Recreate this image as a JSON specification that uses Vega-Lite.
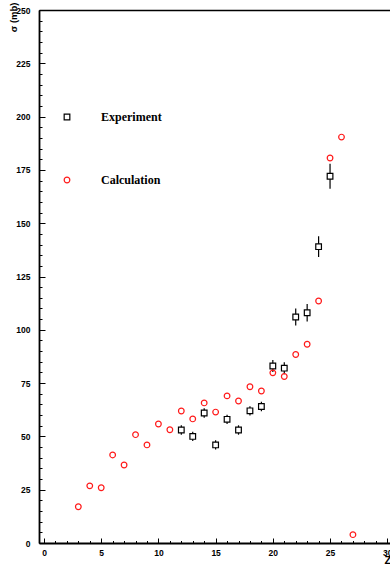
{
  "$schema": "https://vega.github.io/schema/vega-lite/v6.json",
  "width": 351,
  "height": 533,
  "autosize": {"type": "none"},
  "padding": {"left": 39, "top": 10, "right": 0, "bottom": 21},
  "background": "white",
  "config": {
    "view": {"stroke": null},
    "axis": {"grid": false, "labelFont": "Liberation Sans", "labelFontWeight": "bold", "labelFontSize": 8.5, "labelColor": "black", "tickColor": "black", "domainColor": "black", "tickWidth": 1},
    "legend": {"orient": "none", "legendX": 22, "legendY": 101, "padding": 0, "labelFont": "Liberation Serif", "labelFontWeight": "bold", "labelFontSize": 12, "labelColor": "black", "labelOffset": 28, "rowPadding": 51, "symbolSize": 32, "symbolStrokeWidth": 1.2}
  },
  "data": {"values": [
    {"Z": 12, "sigma": 53.0, "err": 2.2, "series": "Experiment"},
    {"Z": 13, "sigma": 50.0, "err": 2.2, "series": "Experiment"},
    {"Z": 14, "sigma": 61.0, "err": 2.2, "series": "Experiment"},
    {"Z": 15, "sigma": 46.0, "err": 2.2, "series": "Experiment"},
    {"Z": 16, "sigma": 58.0, "err": 2.2, "series": "Experiment"},
    {"Z": 17, "sigma": 53.0, "err": 2.2, "series": "Experiment"},
    {"Z": 18, "sigma": 62.0, "err": 2.2, "series": "Experiment"},
    {"Z": 19, "sigma": 64.0, "err": 2.2, "series": "Experiment"},
    {"Z": 20, "sigma": 83.0, "err": 2.8, "series": "Experiment"},
    {"Z": 21, "sigma": 82.0, "err": 2.8, "series": "Experiment"},
    {"Z": 22, "sigma": 106.0, "err": 4.0, "series": "Experiment"},
    {"Z": 23, "sigma": 108.0, "err": 4.1, "series": "Experiment"},
    {"Z": 24, "sigma": 139.0, "err": 4.9, "series": "Experiment"},
    {"Z": 25, "sigma": 172.0, "err": 5.9, "series": "Experiment"},
    {"Z": 3, "sigma": 17.0, "series": "Calculation"},
    {"Z": 4, "sigma": 26.8, "series": "Calculation"},
    {"Z": 5, "sigma": 25.9, "series": "Calculation"},
    {"Z": 6, "sigma": 41.3, "series": "Calculation"},
    {"Z": 7, "sigma": 36.6, "series": "Calculation"},
    {"Z": 8, "sigma": 50.8, "series": "Calculation"},
    {"Z": 9, "sigma": 46.0, "series": "Calculation"},
    {"Z": 10, "sigma": 55.8, "series": "Calculation"},
    {"Z": 11, "sigma": 53.1, "series": "Calculation"},
    {"Z": 12, "sigma": 61.9, "series": "Calculation"},
    {"Z": 13, "sigma": 58.2, "series": "Calculation"},
    {"Z": 14, "sigma": 65.7, "series": "Calculation"},
    {"Z": 15, "sigma": 61.4, "series": "Calculation"},
    {"Z": 16, "sigma": 69.0, "series": "Calculation"},
    {"Z": 17, "sigma": 66.6, "series": "Calculation"},
    {"Z": 18, "sigma": 73.3, "series": "Calculation"},
    {"Z": 19, "sigma": 71.3, "series": "Calculation"},
    {"Z": 20, "sigma": 79.8, "series": "Calculation"},
    {"Z": 21, "sigma": 78.1, "series": "Calculation"},
    {"Z": 22, "sigma": 88.4, "series": "Calculation"},
    {"Z": 23, "sigma": 93.2, "series": "Calculation"},
    {"Z": 24, "sigma": 113.5, "series": "Calculation"},
    {"Z": 25, "sigma": 180.6, "series": "Calculation"},
    {"Z": 26, "sigma": 190.4, "series": "Calculation"},
    {"Z": 27, "sigma": 3.9, "series": "Calculation"}
  ]},
  "layer": [
    {
      "transform": [{"filter": "datum.series === 'Experiment'"}],
      "mark": {"type": "errorbar", "color": "black", "thickness": 1.2},
      "encoding": {
        "x": {"field": "Z", "type": "quantitative", "scale": {"domain": [-0.437, 30.24], "nice": false, "zero": false},
          "axis": {"orient": "bottom", "values": [0, 5, 10, 15, 20, 25, 30], "tickSize": -5, "labelPadding": 10.5, "domainWidth": 1.8, "title": "Z", "titleX": 345, "titleY": 17, "titleAlign": "left", "titleBaseline": "middle", "titleFont": "Liberation Sans", "titleFontSize": 11, "titleFontWeight": "bold", "titleColor": "black"}},
        "y": {"field": "sigma", "type": "quantitative", "scale": {"domain": [0, 250], "nice": false, "zero": false},
          "axis": {"orient": "left", "values": [0, 25, 50, 75, 100, 125, 150, 175, 200, 225, 250], "tickSize": -6, "labelPadding": 15, "domainWidth": 1.8, "title": "σ (mb)", "titleAngle": 270, "titleX": -25.5, "titleY": -8, "titleAlign": "right", "titleBaseline": "middle", "titleFont": "Liberation Sans", "titleFontSize": 9.5, "titleFontWeight": "bold", "titleColor": "black"}},
        "yError": {"field": "err"}
      }
    },
    {
      "transform": [{"filter": "datum.series === 'Experiment'"}],
      "mark": {"type": "point", "filled": false, "strokeWidth": 1.2, "opacity": 1, "size": 32},
      "encoding": {
        "x": {"field": "Z", "type": "quantitative",
          "axis": {"orient": "bottom", "values": [0,1,2,3,4,5,6,7,8,9,10,11,12,13,14,15,16,17,18,19,20,21,22,23,24,25,26,27,28,29,30], "tickSize": -2.5, "labels": false, "domain": false, "title": null}},
        "y": {"field": "sigma", "type": "quantitative",
          "axis": {"orient": "left", "values": [0,5,10,15,20,25,30,35,40,45,50,55,60,65,70,75,80,85,90,95,100,105,110,115,120,125,130,135,140,145,150,155,160,165,170,175,180,185,190,195,200,205,210,215,220,225,230,235,240,245,250], "tickSize": -3, "labels": false, "domain": false, "title": null}},
        "stroke": {"field": "series", "type": "nominal", "scale": {"domain": ["Experiment", "Calculation"], "range": ["black", "#ff1a1a"]}, "legend": {"title": null}},
        "fill": {"field": "series", "type": "nominal", "scale": {"domain": ["Experiment", "Calculation"], "range": ["white", "transparent"]}, "legend": {"title": null}},
        "shape": {"field": "series", "type": "nominal", "scale": {"domain": ["Experiment", "Calculation"], "range": ["square", "circle"]}, "legend": {"title": null}}
      }
    },
    {
      "transform": [{"filter": "datum.series === 'Calculation'"}],
      "mark": {"type": "point", "filled": false, "strokeWidth": 1.2, "opacity": 1, "size": 32},
      "encoding": {
        "x": {"field": "Z", "type": "quantitative",
          "axis": {"orient": "top", "ticks": false, "labels": false, "domain": true, "domainWidth": 1.3, "title": null}},
        "y": {"field": "sigma", "type": "quantitative", "axis": null},
        "stroke": {"field": "series", "type": "nominal", "scale": {"domain": ["Experiment", "Calculation"], "range": ["black", "#ff1a1a"]}, "legend": {"title": null}},
        "fill": {"field": "series", "type": "nominal", "scale": {"domain": ["Experiment", "Calculation"], "range": ["white", "transparent"]}, "legend": {"title": null}},
        "shape": {"field": "series", "type": "nominal", "scale": {"domain": ["Experiment", "Calculation"], "range": ["square", "circle"]}, "legend": {"title": null}}
      }
    }
  ],
  "resolve": {"axis": {"x": "independent", "y": "independent"}}
}
